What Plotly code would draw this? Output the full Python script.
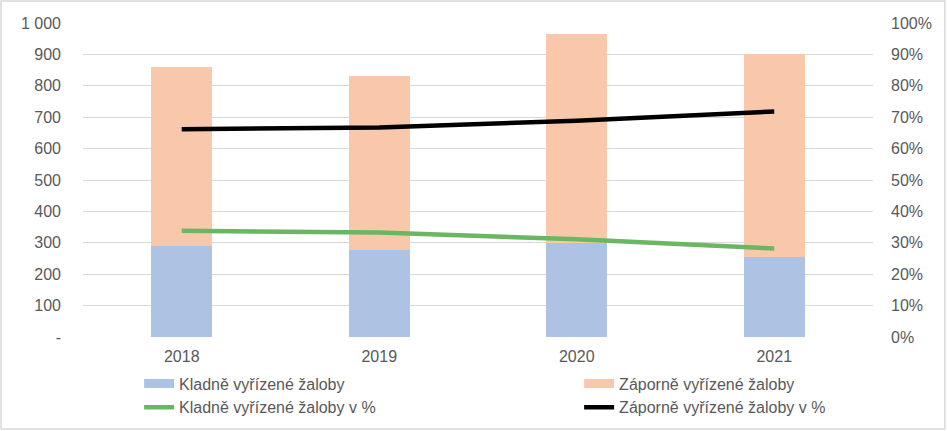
import plotly.graph_objects as go

years = ["2018", "2019", "2020", "2021"]
kladne = [291, 277, 300, 254]
zaporne = [569, 554, 665, 646]
kladne_pct = [0.338, 0.333, 0.311, 0.282]
zaporne_pct = [0.662, 0.667, 0.689, 0.718]

left_ticks = [0, 100, 200, 300, 400, 500, 600, 700, 800, 900, 1000]
left_labels = ["-", "100", "200", "300", "400", "500", "600", "700", "800", "900", "1 000"]
right_ticks = [0, 0.1, 0.2, 0.3, 0.4, 0.5, 0.6, 0.7, 0.8, 0.9, 1.0]
right_labels = ["0%", "10%", "20%", "30%", "40%", "50%", "60%", "70%", "80%", "90%", "100%"]

FONT = "Liberation Sans, Arial, sans-serif"
TICK = "#595959"
BLUE = "#aec2e4"
ORANGE = "#f9c8aa"
GREEN = "#6bb662"

fig = go.Figure()
fig.add_trace(go.Bar(x=years, y=kladne, name="Kladně vyřízené žaloby",
                     marker=dict(color=BLUE, line=dict(width=0)), width=0.31, showlegend=False))
fig.add_trace(go.Bar(x=years, y=zaporne, name="Záporně vyřízené žaloby",
                     marker=dict(color=ORANGE, line=dict(width=0)), width=0.31, showlegend=False))
fig.add_trace(go.Scatter(x=years, y=kladne_pct, name="Kladně vyřízené žaloby v %",
                         mode="lines", line=dict(color=GREEN, width=4.5), yaxis="y2",
                         showlegend=False))
fig.add_trace(go.Scatter(x=years, y=zaporne_pct, name="Záporně vyřízené žaloby v %",
                         mode="lines", line=dict(color="#000000", width=4.5), yaxis="y2",
                         showlegend=False))

# legend entries (Excel-style wide swatches)
fig.add_trace(go.Scatter(x=[years[0]], y=[None], mode="lines", name="Kladně vyřízené žaloby",
                         line=dict(color=BLUE, width=9), legend="legend"))
fig.add_trace(go.Scatter(x=[years[0]], y=[None], mode="lines", name="Kladně vyřízené žaloby v %",
                         line=dict(color=GREEN, width=4.5), legend="legend"))
fig.add_trace(go.Scatter(x=[years[0]], y=[None], mode="lines", name="Záporně vyřízené žaloby",
                         line=dict(color=ORANGE, width=9), legend="legend2"))
fig.add_trace(go.Scatter(x=[years[0]], y=[None], mode="lines", name="Záporně vyřízené žaloby v %",
                         line=dict(color="#000000", width=4.5), legend="legend2"))

legend_common = dict(orientation="v", yanchor="top", xanchor="left", traceorder="normal",
                     font=dict(family=FONT, size=16, color=TICK),
                     bgcolor="rgba(0,0,0,0)", itemwidth=30, tracegroupgap=0)

fig.update_layout(
    width=947, height=431,
    margin=dict(l=83, r=74, t=23, b=94, autoexpand=False),
    barmode="stack",
    paper_bgcolor="white", plot_bgcolor="white",
    font=dict(family=FONT, size=16, color=TICK),
    showlegend=True,
    xaxis=dict(type="category", showgrid=False, showline=False, zeroline=False,
               ticks="", tickfont=dict(size=16, color=TICK), ticklabelstandoff=8),
    yaxis=dict(range=[0, 1000], tickvals=left_ticks, ticktext=left_labels,
               showgrid=True, gridcolor="#d9d9d9", gridwidth=1.3, zeroline=False,
               showline=False, ticks="", tickfont=dict(size=16, color=TICK), ticklabelstandoff=21),
    yaxis2=dict(range=[0, 1], overlaying="y", side="right", tickvals=right_ticks,
                ticktext=right_labels, showgrid=False, zeroline=False, showline=False,
                ticks="", tickfont=dict(size=16, color=TICK), ticklabelstandoff=17),
    legend=dict(x=0.071, y=-0.094, **legend_common),
    legend2=dict(x=0.628, y=-0.094, **legend_common),
    shapes=[dict(type="rect", xref="paper", yref="paper",
                 x0=-0.1038, x1=1.091, y0=-0.293, y1=1.070,
                 line=dict(color="#d9d9d9", width=1.5), fillcolor="rgba(0,0,0,0)", layer="below")],
)

fig.write_html("out.html", config={"displayModeBar": False},
               post_script="document.body.style.margin='0';")
